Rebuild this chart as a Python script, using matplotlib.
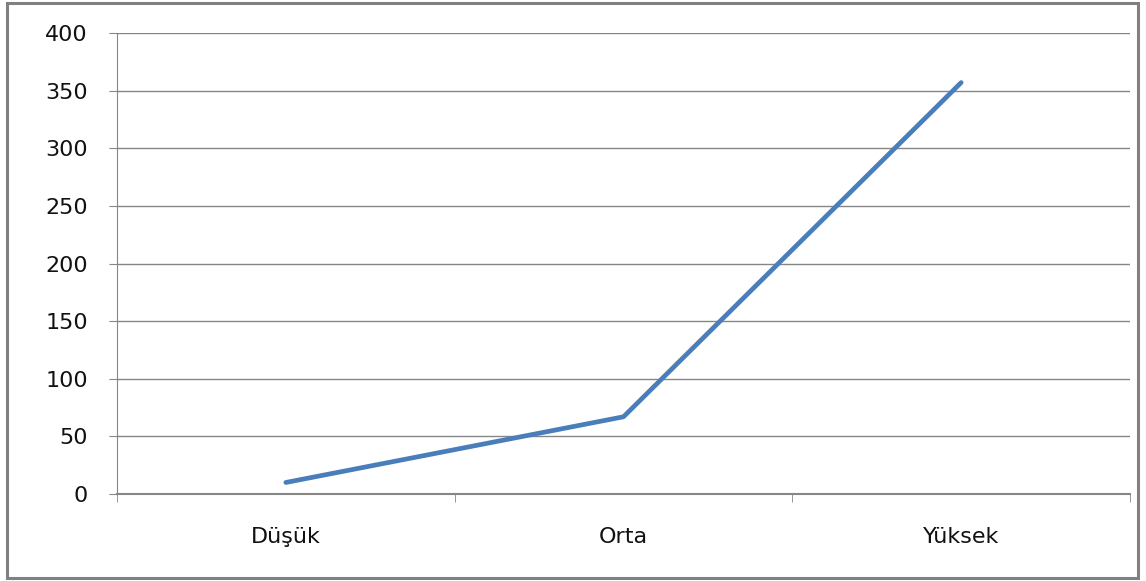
import numpy as np
import matplotlib
matplotlib.use("Agg")
import matplotlib.pyplot as plt
from matplotlib.patches import Rectangle

plt.rcParams.update({"font.family": ["DejaVu Sans"], "font.size": 16})

categories = ["Düşük", "Orta", "Yüksek"]
values = [10, 67, 357]
yticks = [0, 50, 100, 150, 200, 250, 300, 350, 400]

fig = plt.figure(figsize=(11.46, 5.81), dpi=100)
ax = fig.add_axes([117/1146, 87/581, 1013/1146, 461/581])

x = np.arange(len(categories))
ax.plot(x, values, color="#4A7EBB", lw=3.4, solid_capstyle="round")

ax.set_xlim(-0.5, len(categories) - 0.5)
ax.set_ylim(0, 400)
ax.set_yticks(yticks)
ax.set_yticklabels([str(v) for v in yticks])
ax.set_xticks(x)
ax.set_xticklabels(categories)
ax.set_xticks([-0.5, 0.5, 1.5, 2.5], minor=True)

grid_c = "#868686"
ax.grid(axis="y", color=grid_c, lw=1)
ax.set_axisbelow(True)
for s in ["top", "right"]:
    ax.spines[s].set_visible(False)
ax.spines["left"].set_color(grid_c)
ax.spines["bottom"].set_color(grid_c)
ax.spines["bottom"].set_linewidth(1.5)

ax.tick_params(axis="y", length=6, color=grid_c, pad=15, labelcolor="#111111")
ax.tick_params(axis="x", which="major", length=0, pad=24, labelcolor="#111111")
ax.tick_params(axis="x", which="minor", length=6, color=grid_c)

fig.patches.append(Rectangle((7/1146, 3/581), 1131/1146, 575/581, transform=fig.transFigure,
                             fill=False, edgecolor="#808080", lw=2.2))

fig.savefig("out.png", dpi=100)
